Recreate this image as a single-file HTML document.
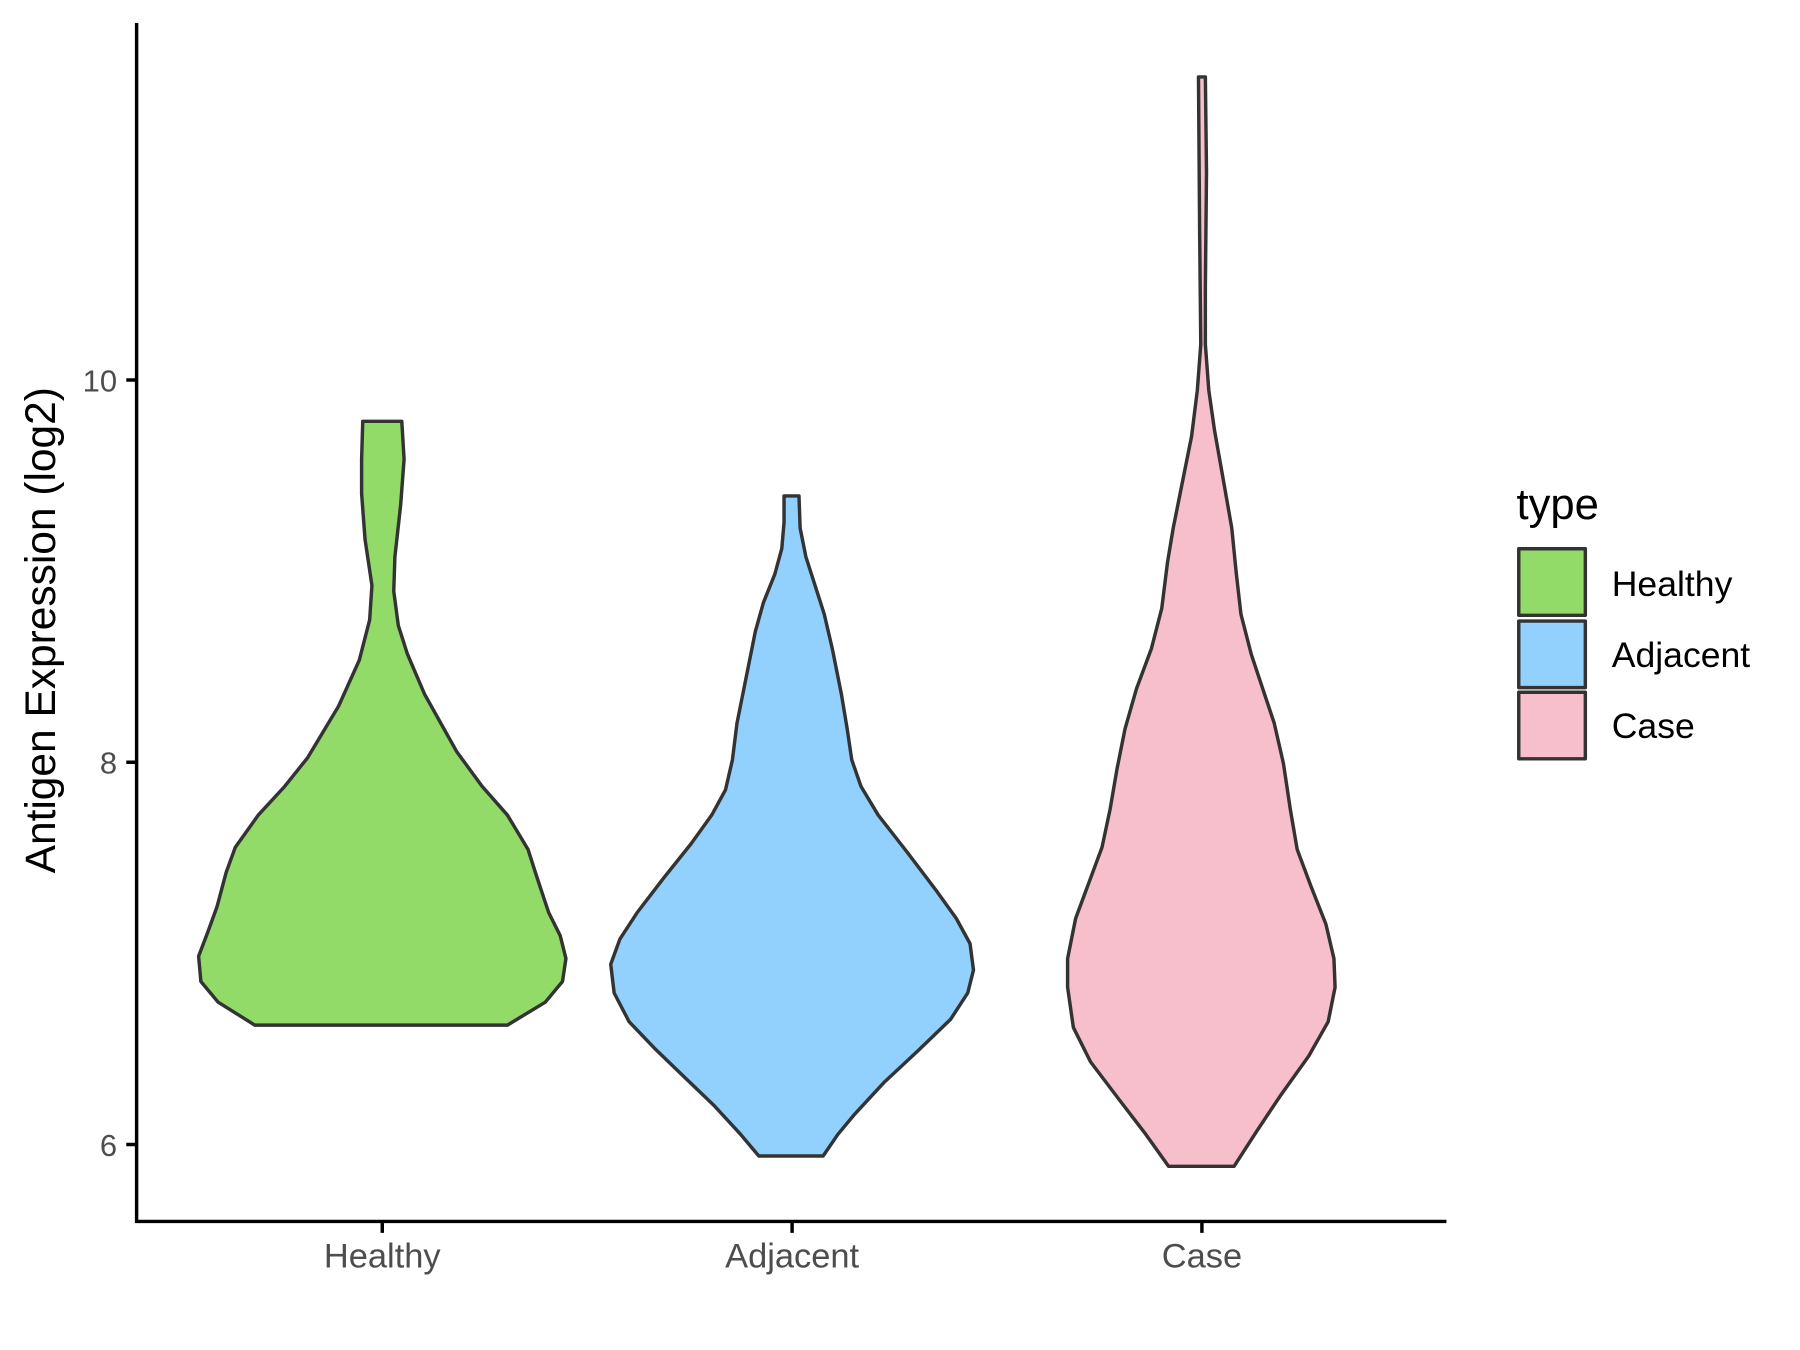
<!DOCTYPE html>
<html><head><meta charset="utf-8"><style>
html,body{margin:0;padding:0;background:#fff;}
svg{display:block;}
text{font-family:"Liberation Sans",Arial,sans-serif;}
</style></head><body>
<svg width="1800" height="1350" viewBox="0 0 1552 1164" xmlns="http://www.w3.org/2000/svg">
<rect width="1552" height="1164" fill="#fff"/>
<g transform="scale(0.9898)">
<g stroke="#333" stroke-width="3" stroke-linejoin="round">
<polygon fill="#93DB69" points="316,367 350,367 352,400 349,440 344,485 343,515 347,545 355,570 370,605 398,655 420,685 442,710 460,740 468,765 478,795 488,815 493,835 490,855 475,873 442,893 222,893 190,873 175,855 173,833 181,812 189,790 197,760 205,738 225,710 248,685 268,660 295,615 313,575 322,540 324,510 318,470 315,430 315,400"/>
<polygon fill="#92D1FD" points="683,432 696,432 697,460 702,485 710,510 718,535 725,565 733,605 738,635 742,662 750,685 765,710 790,742 815,775 833,800 845,822 848,845 843,865 828,888 800,915 770,943 745,970 730,988 717,1007 661,1007 645,988 622,963 598,940 570,913 548,890 535,865 532,840 540,818 555,795 578,765 602,735 620,710 632,688 638,662 642,630 650,590 658,550 665,525 675,500 681,478 683,455"/>
<polygon fill="#F7BFCB" points="1044,67 1050,67 1051,150 1050,250 1050,300 1053,340 1058,375 1066,420 1073,460 1077,500 1081,535 1090,570 1100,600 1110,630 1118,665 1124,705 1130,740 1142,772 1155,805 1162,835 1163,860 1157,890 1140,920 1115,955 1095,985 1075,1016 1018,1016 998,988 975,958 950,925 935,895 930,860 930,835 937,800 950,765 960,738 967,705 973,670 980,635 990,600 1003,565 1012,530 1017,490 1022,460 1030,420 1038,380 1043,340 1046,300 1045,200"/>
<rect x="1323" y="478" width="58" height="58" fill="#93DB69"/>
<rect x="1323" y="541" width="58" height="58" fill="#92D1FD"/>
<rect x="1323" y="603" width="58" height="58" fill="#F7BFCB"/>
</g>
<g stroke="#000" stroke-width="3" fill="none">
<path d="M119,20 V1064 H1260"/>
<path d="M110,331 H119 M110,664 H119 M110,997 H119"/>
<path d="M333,1064 V1074 M690,1064 V1074 M1047,1064 V1074"/>
</g>
<g fill="#4d4d4d" font-size="27" text-anchor="end">
<text x="102" y="341">10</text>
<text x="102" y="674">8</text>
<text x="102" y="1007">6</text>
</g>
<g fill="#4d4d4d" font-size="30" text-anchor="middle">
<text x="333" y="1104">Healthy</text>
<text x="690" y="1104">Adjacent</text>
<text x="1047" y="1104">Case</text>
</g>
<text transform="translate(48,549) rotate(-90)" text-anchor="middle" font-size="37" fill="#000">Antigen Expression (log2)</text>
<text x="1321" y="452" font-size="38" fill="#000">type</text>
<g font-size="31" fill="#000">
<text x="1404" y="519">Healthy</text>
<text x="1404" y="581">Adjacent</text>
<text x="1404" y="643">Case</text>
</g>
</g>
</svg>
</body></html>
